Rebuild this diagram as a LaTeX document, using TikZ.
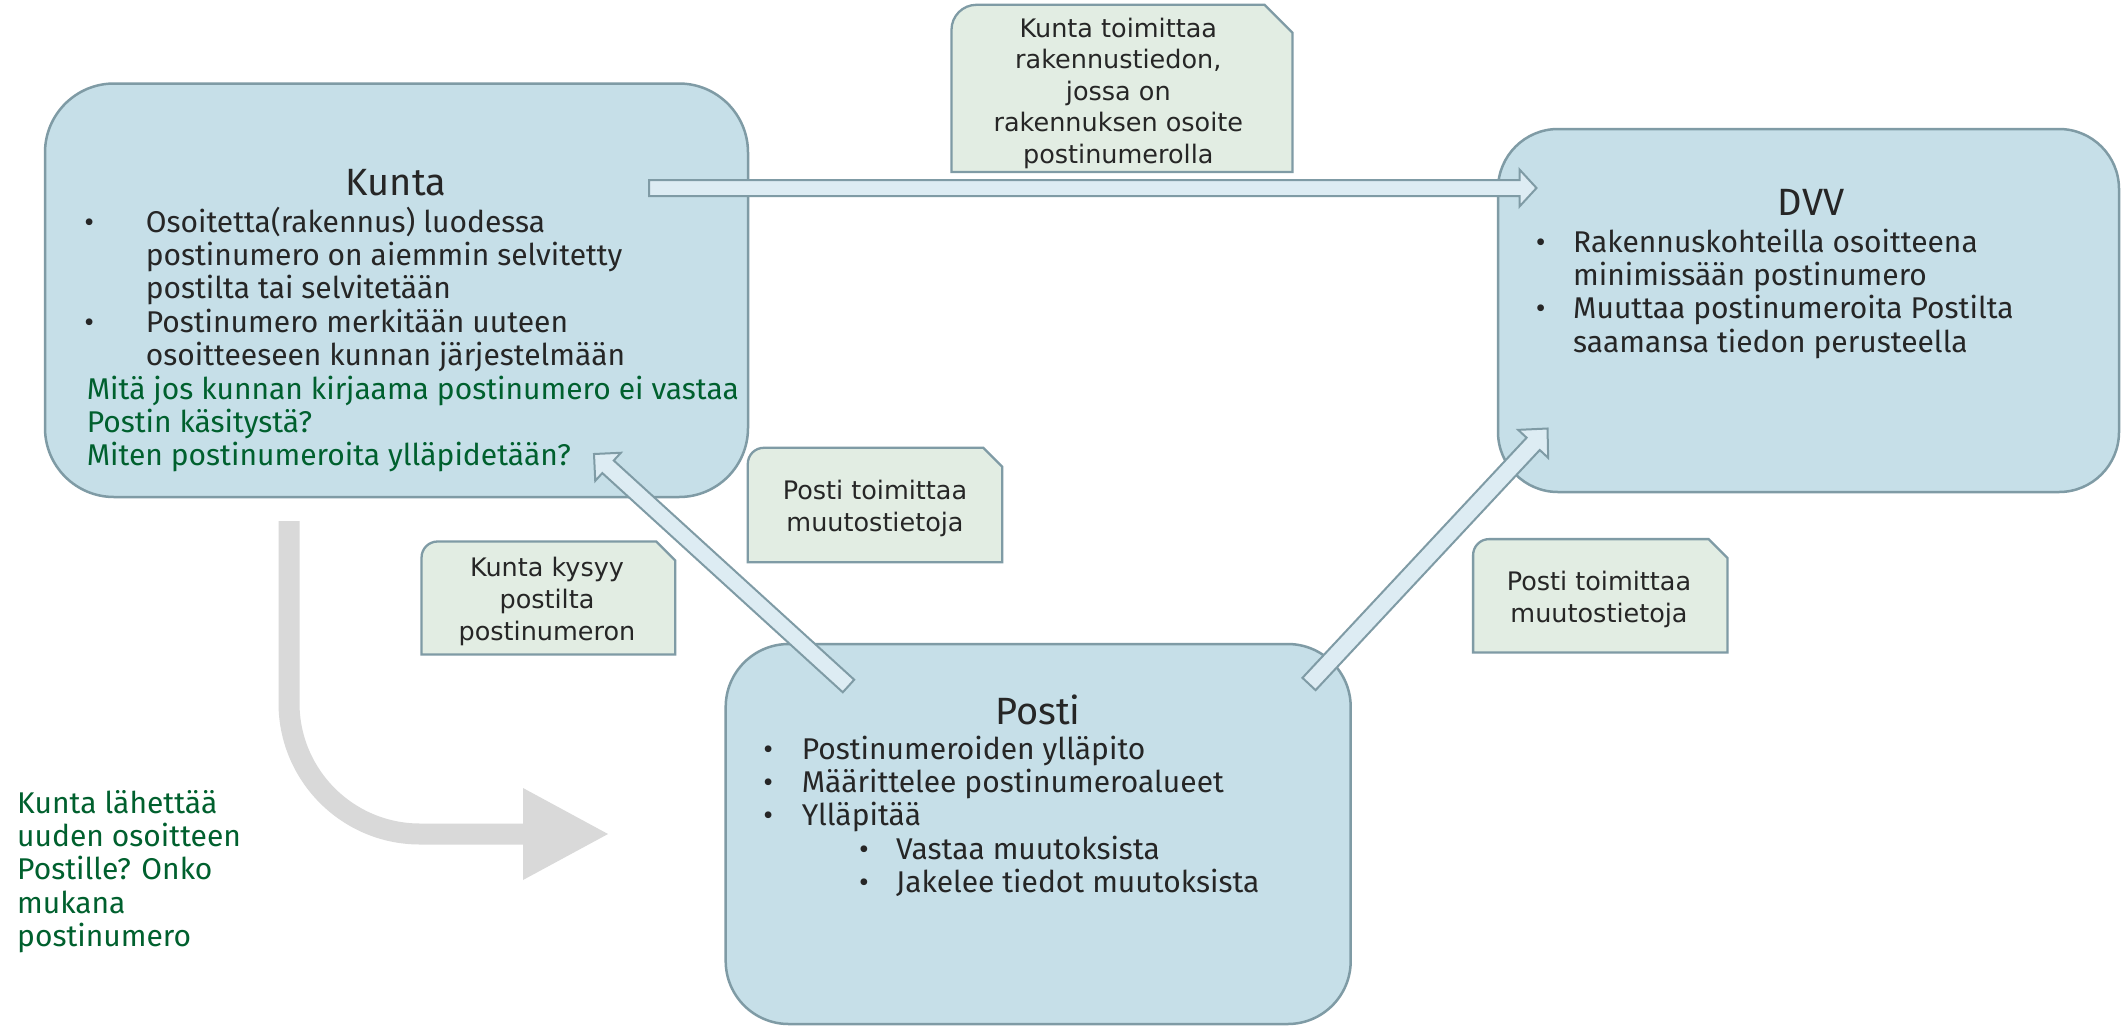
\documentclass[tikz,border=0pt]{standalone}
\usepackage{fontspec}
\setmainfont{Fira Sans}
\newfontfamily\vfont{DejaVu Sans}
\usetikzlibrary{calc}
\definecolor{boxfill}{HTML}{C6DFE8}
\definecolor{boxline}{HTML}{7F9BA5}
\definecolor{callfill}{HTML}{E2EDE3}
\definecolor{arrfill}{HTML}{DDECF3}
\definecolor{grayarr}{HTML}{D9D9D9}
\definecolor{kgreen}{HTML}{00602E}
\definecolor{ink}{HTML}{262626}
\newcommand\lblock[1]{\vtop{\halign{##\hfil\cr#1\crcr}}}
\newcommand\cblock[1]{\vtop{\halign{\hfil##\hfil\cr#1\crcr}}}
\newcommand\bu[1]{\llap{\makebox[#1][c]{•}}}
% block arrow: start, tip, head length, head half width, shaft half width
\newcommand\blockarrow[5]{%
  \coordinate (hb) at ($(#2)!#3!(#1)$);
  \draw[barrow] ($(#1)!#5!90:(#2)$) -- ($(hb)!#5!90:(#2)$) -- ($(hb)!#4!90:(#2)$)
    -- (#2) -- ($(hb)!#4!-90:(#2)$) -- ($(hb)!#5!-90:(#2)$) -- ($(#1)!#5!-90:(#2)$) -- cycle;}
% callout outline around an empty node: name, corner radius, snip
\newcommand\calloutshape[3]{%
  \draw[callout] (#1.south west) -- ([yshift=-#2]#1.north west)
    arc[start angle=180, end angle=90, radius=#2] -- ([xshift=-#3]#1.north east)
    -- ([yshift=-#3]#1.north east) -- (#1.south east) -- cycle;}
\begin{document}
\begin{tikzpicture}[x=1pt,y=-1pt,
  every node/.style={text=ink},
  rbox/.style={draw=boxline, fill=boxfill, line width=2.5pt, rounded corners=#1, inner sep=0pt},
  barrow/.style={draw=boxline, fill=arrfill, line width=2pt, line join=miter},
  callout/.style={draw=boxline, fill=callfill, line width=2.3pt},
  cframe/.style={inner sep=0pt, draw=none},
  titlefont/.style={font=\fontsize{38}{40}\selectfont, inner sep=0pt},
  bodyfont/.style={font=\fontsize{30}{33.4}\selectfont, inner sep=0pt},
  cfont/.style={font=\vfont\fontsize{25.5}{32}\selectfont, inner sep=0pt},
  cfonttop/.style={font=\vfont\fontsize{25.5}{31.5}\selectfont, inner sep=0pt}]
\fill[white] (0,0) rectangle (2121,1026);
\useasboundingbox (0,0) rectangle (2121,1026);

% main boxes
\node[rbox=69pt, minimum width=703pt, minimum height=413.5pt] (kunta) at (396.5,290.25) {};
\node[rbox=60pt, minimum width=621pt, minimum height=363pt] (dvv) at (1808.5,310.5) {};
\node[rbox=63pt, minimum width=625pt, minimum height=380pt] (posti) at (1038.2,834) {};

% Kunta text
\node[titlefont, anchor=base] (kuntat) at (396,195) {Kunta};
\node[bodyfont, anchor=base west] (kuntab) at (145.6,232) {\lblock{%
\bu{113.2pt}Osoitetta(rakennus) luodessa\cr
postinumero on aiemmin selvitetty\cr
postilta tai selvitetään\cr
\bu{113.2pt}Postinumero merkitään uuteen\cr
osoitteeseen kunnan järjestelmään\cr
\hskip-59pt\color{kgreen}Mitä jos kunnan kirjaama postinumero ei vastaa\cr
\hskip-59pt\color{kgreen}Postin käsitystä?\cr
\hskip-59pt\color{kgreen}Miten postinumeroita ylläpidetään?\cr}};

% DVV text
\node[titlefont, anchor=base] (dvvt) at (1811,215) {DVV};
\node[bodyfont, anchor=base west] (dvvb) at (1573,252) {\lblock{%
\bu{64.8pt}Rakennuskohteilla osoitteena\cr
minimissään postinumero\cr
\bu{64.8pt}Muuttaa postinumeroita Postilta\cr
saamansa tiedon perusteella\cr}};

% Posti text
\node[titlefont, anchor=base] (postit) at (1038,724) {Posti};
\node[bodyfont, anchor=base west] (postib) at (801.6,759) {\lblock{%
\bu{67.2pt}Postinumeroiden ylläpito\cr
\bu{67.2pt}Määrittelee postinumeroalueet\cr
\bu{67.2pt}Ylläpitää\cr
\hskip94.4pt\bu{64.6pt}Vastaa muutoksista\cr
\hskip94.4pt\bu{64.6pt}Jakelee tiedot muutoksista\cr}};

% green note bottom left
\node[bodyfont, anchor=base west] (note) at (17,813) {\lblock{%
\color{kgreen}Kunta lähettää\cr
\color{kgreen}uuden osoitteen\cr
\color{kgreen}Postille? Onko\cr
\color{kgreen}mukana\cr
\color{kgreen}postinumero\cr}};

% callouts
\node[cframe, minimum width=340.6pt, minimum height=166.7pt] (c1) at (1122,88.35) {};
\calloutshape{c1}{25pt}{28pt}
\node[cfonttop, anchor=base] (c1t) at (1118.3,37.3) {\cblock{%
Kunta toimittaa\cr rakennustiedon,\cr jossa on\cr rakennuksen osoite\cr postinumerolla\cr}};

\node[cframe, minimum width=254pt, minimum height=114pt] (c2) at (875,505) {};
\calloutshape{c2}{16pt}{19pt}
\node[cfont, anchor=base] (c2t) at (875,499.7) {\cblock{Posti toimittaa\cr muutostietoja\cr}};

\node[cframe, minimum width=253.3pt, minimum height=112.6pt] (c3) at (548.4,598) {};
\calloutshape{c3}{16pt}{19pt}
\node[cfont, anchor=base] (c3t) at (547,576.7) {\cblock{Kunta kysyy\cr postilta\cr postinumeron\cr}};

\node[cframe, minimum width=254pt, minimum height=113pt] (c4) at (1600.3,595.8) {};
\calloutshape{c4}{16pt}{19pt}
\node[cfont, anchor=base] (c4t) at (1599,590.7) {\cblock{Posti toimittaa\cr muutostietoja\cr}};

% block arrows
\coordinate (a0s) at (649,188);
\coordinate (a0e) at (1536.5,188);
\blockarrow{a0s}{a0e}{17pt}{18.5pt}{8pt}
\coordinate (a1s) at (848.5,686);
\coordinate (a1e) at (594,454);
\blockarrow{a1s}{a1e}{19pt}{19pt}{8.5pt}
\coordinate (a2s) at (1309,684);
\coordinate (a2e) at (1547.5,428.5);
\blockarrow{a2s}{a2e}{21pt}{20.5pt}{9pt}

% grey bent arrow
\coordinate (g1) at (289,521);
\coordinate (g2) at (525,834);
\coordinate (gt) at (608,834);
\draw[grayarr, line width=21pt, rounded corners=131pt] (g1) |- (g2);
\fill[grayarr] ($(g2)+(-2,-46)$) -- (gt) -- ($(g2)+(-2,46)$) -- cycle;
\end{tikzpicture}
\end{document}
